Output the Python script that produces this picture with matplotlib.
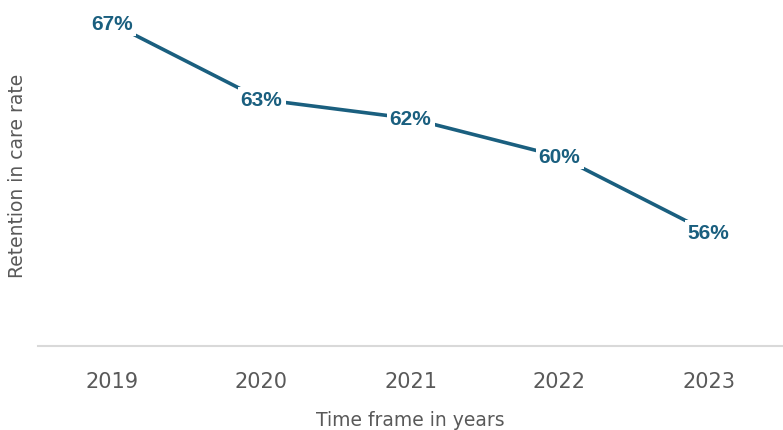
import matplotlib.pyplot as plt

years = ['2019', '2020', '2021', '2022', '2023']
retention = [67, 63, 62, 60, 56]

LINE_COLOR = '#1a5f7f'
GRAY = '#595959'

fig = plt.figure(figsize=(7.83, 4.31), dpi=100)
ax = fig.add_axes([38 / 783, 84 / 431, 745 / 783, 347 / 431])

x = list(range(len(years)))
ax.plot(x, retention, color=LINE_COLOR, linewidth=2.6, solid_capstyle='butt', zorder=2)

# data labels sit on the points with a white box that cuts the line
for xi, v in zip(x, retention):
    ax.text(xi, v, f'{v}%', ha='center', va='center', fontsize=15,
            fontweight='bold', color=LINE_COLOR, family='Liberation Sans',
            bbox=dict(boxstyle='square,pad=0.15', fc='white', ec='none'), zorder=3)

ax.set_xlim(-0.5, len(years) - 0.5)
ax.set_ylim(50, 68.3)
ax.set_xticks(x)
ax.set_xticklabels(years, fontsize=15, color=GRAY)
ax.tick_params(axis='x', length=0, pad=18)
ax.set_yticks([])

for side in ['top', 'right', 'left']:
    ax.spines[side].set_visible(False)
ax.spines['bottom'].set_color('#d9d9d9')
ax.spines['bottom'].set_linewidth(1.5)

ax.set_xlabel('Time frame in years', fontsize=13.5, color=GRAY, labelpad=14)
fig.text(18 / 783, 1 - 176 / 431, 'Retention in care rate', rotation=90, ha='center', va='center',
         fontsize=13.5, color=GRAY)

fig.savefig('out.png', dpi=100)
